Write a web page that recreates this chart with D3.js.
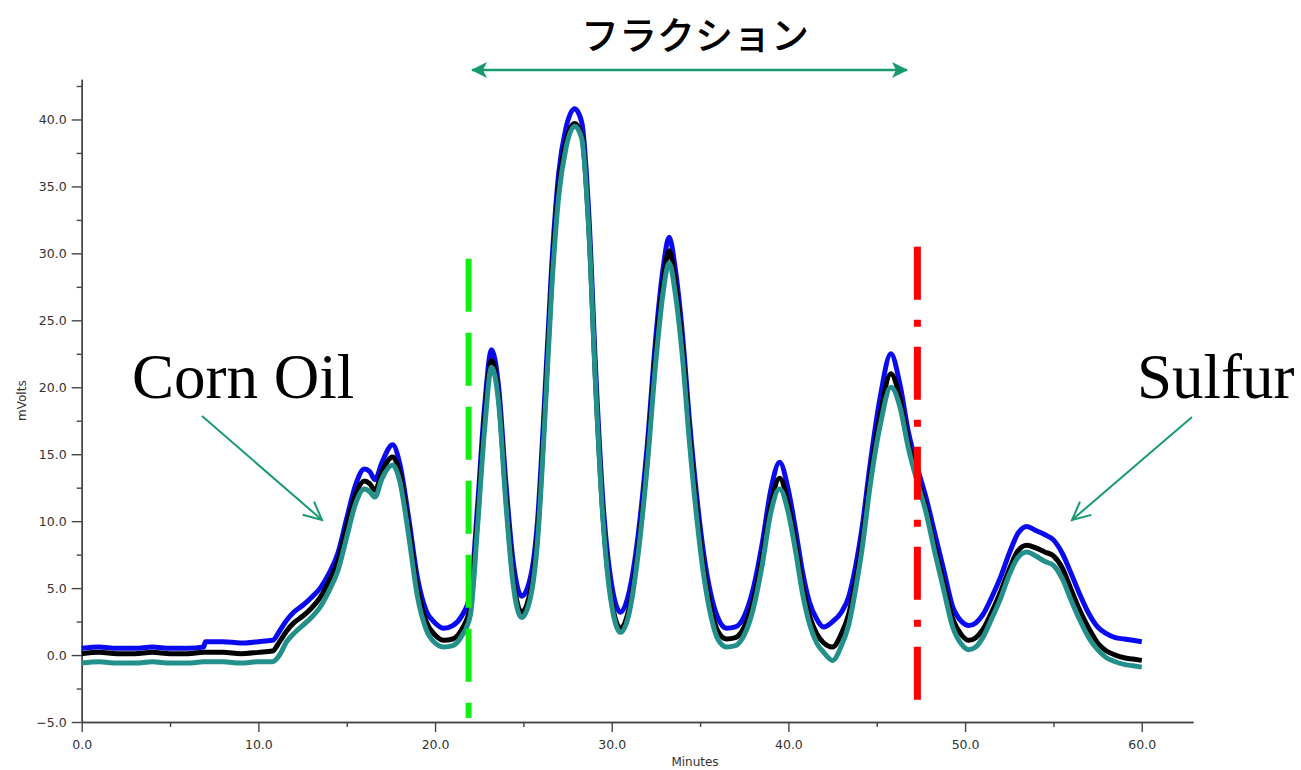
<!DOCTYPE html>
<html>
<head>
<meta charset="utf-8">
<script src="https://cdn.jsdelivr.net/npm/d3@7"></script>
<style>
  body { margin: 0; background: #fff; }
  .tick text { font-family: "DejaVu Sans", Verdana, sans-serif; font-size: 12.5px; fill: #333; }
  .axis path, .axis line { stroke: #444; stroke-width: 1.4; }
</style>
</head>
<body>
<script>
// chromatogram readings (minutes / mVolts)
var times = [
  0,1,2,3,4,5,6,6.9,7,8,9,10,10.8,
  11.2,11.6,12,12.5,13,13.5,14,14.5,15,15.5,16,16.3,16.6,17,17.6,18,18.5,19,19.5,20,20.5,21,21.5,22,
  22.4,22.8,23.2,23.6,24,24.4,24.9,25.4,25.8,26.2,26.6,27,27.4,27.9,28.3,28.7,29.1,29.5,30,30.5,
  31,31.5,32,32.5,32.9,33.25,33.6,34,34.4,34.8,35.2,35.6,36,36.5,37,37.5,38,38.5,39,39.5,
  40,40.4,40.8,41.2,41.6,42,42.5,43,43.4,43.8,44.2,44.6,45.2,45.8,46.3,46.8,47.3,47.8,48.3,48.8,
  49.3,49.8,50.2,50.6,51,51.5,52,52.5,53,53.5,54,54.5,55,55.5,56,56.5,57,57.5,58,58.5,59,59.5,60
];
var blueVals = [
  0.5,0.6,0.5,0.5,0.6,0.5,0.5,0.6,1.0,1.0,0.9,1.0,1.1,
  1.8,2.6,3.2,3.7,4.3,5.0,6.1,7.6,10.2,12.7,13.9,13.7,13.1,14.4,15.7,14.3,10.3,5.8,3.3,2.4,2.0,2.2,2.9,4.6,
  11.0,18.5,22.8,20.0,13.0,7.2,4.4,5.8,10.0,19.0,29.0,36.0,39.3,40.8,39.8,33.0,21.0,11.5,5.2,3.2,
  4.8,9.0,15.5,23.8,28.8,31.2,28.8,24.0,17.5,12.0,7.6,4.6,2.8,2.0,2.1,2.9,4.9,8.2,12.3,14.4,
  12.3,9.4,6.2,3.9,2.7,2.1,2.5,3.2,4.3,6.6,9.8,14.0,19.3,22.5,20.3,16.6,14.0,11.7,9.0,6.3,
  3.6,2.5,2.2,2.4,3.0,4.3,5.8,7.6,9.1,9.6,9.3,9.0,8.6,7.6,6.1,4.5,3.1,2.1,1.6,1.3,1.2,1.1,1.0
];
var blackVals = [
  0.1,0.2,0.1,0.1,0.2,0.1,0.1,0.2,0.2,0.2,0.1,0.2,0.3,
  1.0,1.8,2.4,2.9,3.5,4.3,5.5,7.0,9.6,12.0,13.0,12.8,12.3,13.7,14.8,13.6,9.6,5.0,2.5,1.5,1.1,1.2,1.9,3.6,
  10.2,17.6,22.0,19.2,12.0,6.0,3.2,4.8,9.0,18.0,28.0,35.0,38.3,39.7,38.8,32.0,20.0,10.5,4.0,2.0,
  3.6,8.0,14.5,22.8,27.8,30.2,27.8,23.0,16.5,11.0,6.6,3.6,1.8,1.2,1.3,2.1,4.0,7.2,11.2,13.2,
  11.2,8.4,5.2,2.9,1.6,0.9,0.6,1.6,3.0,5.5,8.8,13.0,18.0,21.0,19.2,15.8,13.2,10.9,8.0,5.3,
  2.7,1.5,1.1,1.3,1.9,3.2,4.7,6.4,7.8,8.2,8.0,7.7,7.4,6.5,4.9,3.3,2.0,0.9,0.3,0.0,-0.2,-0.3,-0.4
];
var tealVals = [
  -0.6,-0.5,-0.6,-0.6,-0.5,-0.6,-0.6,-0.5,-0.5,-0.5,-0.6,-0.5,-0.5,
  0.0,1.0,1.6,2.2,2.8,3.6,4.8,6.3,8.8,11.3,12.4,12.2,11.8,13.2,14.2,13.0,9.0,4.4,1.9,0.9,0.6,0.7,1.4,3.0,
  9.5,16.8,21.5,18.8,11.5,5.5,2.8,4.3,8.5,17.3,27.3,34.3,37.8,39.5,38.6,31.8,19.8,10.2,3.7,1.7,
  3.2,7.6,14.0,22.0,27.0,29.3,27.0,22.3,15.9,10.4,6.0,3.0,1.2,0.6,0.7,1.5,3.4,6.6,10.6,12.4,
  10.6,7.8,4.6,2.3,0.9,0.2,-0.4,0.7,2.2,4.9,8.2,12.4,17.2,20.0,18.6,15.4,12.9,10.6,7.6,4.8,
  2.1,0.8,0.4,0.6,1.3,2.7,4.2,6.0,7.3,7.7,7.4,7.0,6.7,5.7,4.1,2.6,1.3,0.4,-0.2,-0.5,-0.7,-0.8,-0.9
];
var seriesNames = ["blue", "black", "teal"];
var seriesColors = ["#0a0af0", "#000000", "#23908b"];

var xTicks = [0, 10, 20, 30, 40, 50, 60];
var xMinor = [5, 15, 25, 35, 45, 55];
var yTicks = [-5, 0, 5, 10, 15, 20, 25, 30, 35, 40];
var yMinor = [-2.5, 2.5, 7.5, 12.5, 17.5, 22.5, 27.5, 32.5, 37.5, 42.5];

// fraction cut points (minutes)
var fractionStart = 21.9;
var fractionEnd = 47.3;

var W = 1301, H = 770;
var svg = d3.select("body").append("svg")
  .attr("width", W)
  .attr("height", H);

var x = d3.scaleLinear().domain([0, 62.9]).range([81.7, 1193]);
var y = d3.scaleLinear().domain([-5, 43]).range([722, 79.3]);

// axes
var fmt = d3.format(".1f");
svg.append("g").attr("class", "axis")
  .attr("transform", "translate(0," + y(-5) + ")")
  .call(d3.axisBottom(x).tickValues(xTicks).tickFormat(fmt).tickSize(10).tickSizeOuter(0).tickPadding(8));
svg.append("g").attr("class", "axis")
  .attr("transform", "translate(0," + y(-5) + ")")
  .call(d3.axisBottom(x).tickValues(xMinor).tickFormat("").tickSize(5).tickSizeOuter(0));
svg.append("g").attr("class", "axis")
  .attr("transform", "translate(" + x(0) + ",0)")
  .call(d3.axisLeft(y).tickValues(yTicks).tickFormat(fmt).tickSize(10).tickSizeOuter(0).tickPadding(5));
svg.append("g").attr("class", "axis")
  .attr("transform", "translate(" + x(0) + ",0)")
  .call(d3.axisLeft(y).tickValues(yMinor).tickFormat("").tickSize(5).tickSizeOuter(0));

svg.append("text")
  .attr("x", 695).attr("y", 766)
  .attr("text-anchor", "middle")
  .style("font-family", "DejaVu Sans, Verdana, sans-serif")
  .style("font-size", "12px").style("fill", "#333")
  .text("Minutes");
svg.append("text")
  .attr("transform", "translate(26," + y(19) + ") rotate(-90)")
  .attr("text-anchor", "middle")
  .style("font-family", "DejaVu Sans, Verdana, sans-serif")
  .style("font-size", "12px").style("fill", "#333")
  .text("mVolts");

// traces
var allVals = [blueVals, blackVals, tealVals];
var line = d3.line()
  .x(function(d) { return x(d[0]); })
  .y(function(d) { return y(d[1]); })
  .curve(d3.curveMonotoneX);

svg.append("g").selectAll("path")
  .data(allVals)
  .enter().append("path")
    .attr("class", function(d, i) { return "trace " + seriesNames[i]; })
    .attr("d", function(d) { return line(times.map(function(t, j) { return [t, d[j]]; })); })
    .attr("fill", "none")
    .attr("stroke", function(d, i) { return seriesColors[i]; })
    .attr("stroke-width", 5)
    .attr("stroke-linejoin", "round");

// fraction marker lines
svg.append("line")
  .attr("x1", x(fractionStart)).attr("x2", x(fractionStart))
  .attr("y1", y(29.6)).attr("y2", y(-4.7))
  .attr("stroke", "#11ee11").attr("stroke-width", 6)
  .attr("stroke-dasharray", "53,21");
svg.append("line")
  .attr("x1", x(fractionEnd)).attr("x2", x(fractionEnd))
  .attr("y1", y(30.5)).attr("y2", y(-3.4))
  .attr("stroke", "#ff0000").attr("stroke-width", 7)
  .attr("stroke-dasharray", "53,20,7,20");

// annotations
var green = "#189a70";
var defs = svg.append("defs");
defs.append("marker")
  .attr("id", "head")
  .attr("viewBox", "0 0 16 16")
  .attr("refX", 15).attr("refY", 8)
  .attr("markerWidth", 16).attr("markerHeight", 16)
  .attr("markerUnits", "userSpaceOnUse")
  .attr("orient", "auto-start-reverse")
  .append("path")
    .attr("d", "M0,0 L16,8 L0,16 L4,8 Z")
    .attr("fill", green);

svg.append("line")
  .attr("x1", 472).attr("x2", 907)
  .attr("y1", 70).attr("y2", 70)
  .attr("stroke", green).attr("stroke-width", 2.5)
  .attr("marker-start", "url(#head)")
  .attr("marker-end", "url(#head)");

svg.append("text")
  .attr("x", 695).attr("y", 49)
  .attr("text-anchor", "middle")
  .style("font-family", "Noto Sans CJK JP, sans-serif")
  .style("font-size", "38px").style("font-weight", "500").style("fill", "#000")
  .text("フラクション");

svg.append("text")
  .attr("x", 132).attr("y", 398)
  .style("font-family", "Liberation Serif, Times New Roman, serif")
  .style("font-size", "63px").style("fill", "#000")
  .text("Corn Oil");
svg.append("text")
  .attr("x", 1137).attr("y", 398)
  .style("font-family", "Liberation Serif, Times New Roman, serif")
  .style("font-size", "63px").style("fill", "#000")
  .text("Sulfur");

function openArrow(x1, y1, x2, y2) {
  var g = svg.append("g").attr("stroke", green).attr("stroke-width", 2).attr("fill", "none");
  g.append("line").attr("x1", x1).attr("y1", y1).attr("x2", x2).attr("y2", y2);
  var a = Math.atan2(y2 - y1, x2 - x1), L = 20, s = 0.45;
  g.append("path").attr("d",
    "M" + (x2 - L * Math.cos(a - s)) + "," + (y2 - L * Math.sin(a - s)) +
    "L" + x2 + "," + y2 +
    "L" + (x2 - L * Math.cos(a + s)) + "," + (y2 - L * Math.sin(a + s)));
}
openArrow(202, 416, 322, 520);
openArrow(1192, 417, 1072, 520);
</script>
</body>
</html>
